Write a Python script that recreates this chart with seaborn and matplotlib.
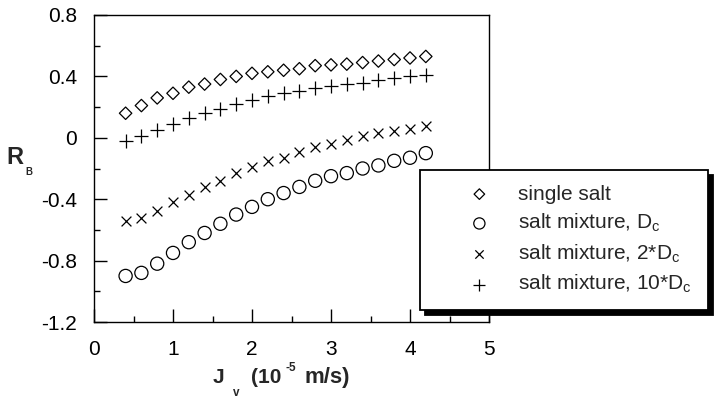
import matplotlib
matplotlib.use("Agg")
import matplotlib.pyplot as plt
from matplotlib.ticker import FixedLocator, FixedFormatter, MultipleLocator
import pandas as pd
import seaborn as sns

# Permeate flux J_v (10^-5 m/s)
jv = [0.4, 0.6, 0.8, 1.0, 1.2, 1.4, 1.6, 1.8, 2.0, 2.2,
      2.4, 2.6, 2.8, 3.0, 3.2, 3.4, 3.6, 3.8, 4.0, 4.2]

# Retention R_B for each case
r_single = [0.16, 0.21, 0.26, 0.29, 0.33, 0.35, 0.38, 0.40, 0.42, 0.43,
            0.44, 0.45, 0.47, 0.475, 0.48, 0.49, 0.50, 0.51, 0.52, 0.53]
r_mix_dc = [-0.90, -0.88, -0.82, -0.75, -0.68, -0.62, -0.56, -0.50, -0.45, -0.40,
            -0.36, -0.32, -0.28, -0.25, -0.23, -0.20, -0.18, -0.15, -0.13, -0.10]
r_mix_2dc = [-0.54, -0.52, -0.48, -0.42, -0.37, -0.32, -0.28, -0.23, -0.19, -0.15,
             -0.13, -0.09, -0.06, -0.04, -0.015, 0.01, 0.03, 0.045, 0.06, 0.075]
r_mix_10dc = [-0.02, 0.01, 0.05, 0.09, 0.13, 0.16, 0.19, 0.22, 0.245, 0.27,
              0.29, 0.305, 0.325, 0.335, 0.35, 0.36, 0.375, 0.39, 0.405, 0.41]

series_labels = ["single salt",
                 "salt mixture, D$_{\\mathrm{c}}$",
                 "salt mixture, 2*D$_{\\mathrm{c}}$",
                 "salt mixture, 10*D$_{\\mathrm{c}}$"]

x_ticks = [0, 1, 2, 3, 4, 5]
x_tick_labels = ["0", "1", "2", "3", "4", "5"]
y_ticks = [-1.2, -0.8, -0.4, 0, 0.4, 0.8]
y_tick_labels = ["-1.2", "-0.8", "-0.4", "0", "0.4", "0.8"]

sns.set_theme(style="ticks")
plt.rcParams.update({
    "font.family": ["Liberation Sans", "DejaVu Sans"],
    "mathtext.fontset": "custom",
    "mathtext.rm": "Liberation Sans",
    "mathtext.it": "Liberation Sans:italic",
    "mathtext.bf": "Liberation Sans:bold",
    "axes.unicode_minus": False,
    "axes.edgecolor": "black",
    "axes.linewidth": 1.0,
})

frames = []
for name, vals in zip(series_labels, [r_single, r_mix_dc, r_mix_2dc, r_mix_10dc]):
    frames.append(pd.DataFrame({"jv": jv, "rb": vals, "series": name}))
df = pd.concat(frames, ignore_index=True)

marker_style = {
    series_labels[0]: dict(marker="D", s=40, facecolor="none", edgecolor="black", linewidth=0.9),
    series_labels[1]: dict(marker="o", s=90, facecolor="none", edgecolor="black", linewidth=0.9),
    series_labels[2]: dict(marker="x", s=50, color="black", linewidth=0.9),
    series_labels[3]: dict(marker="+", s=100, color="black", linewidth=0.9),
}

W, H = 715, 399
fig = plt.figure(figsize=(W / 100, H / 100), dpi=100)
ax = fig.add_axes([94 / W, 1 - 322 / H, (489 - 94) / W, (322 - 15) / H])

for name in series_labels:
    sub = df[df["series"] == name]
    sns.scatterplot(data=sub, x="jv", y="rb", ax=ax, label=name, zorder=3,
                    **marker_style[name])

ax.set_xlim(0, 5)
ax.set_ylim(-1.2, 0.8)
ax.xaxis.set_major_locator(FixedLocator(x_ticks))
ax.xaxis.set_major_formatter(FixedFormatter(x_tick_labels))
ax.yaxis.set_major_locator(FixedLocator(y_ticks))
ax.yaxis.set_major_formatter(FixedFormatter(y_tick_labels))
ax.xaxis.set_minor_locator(MultipleLocator(0.5))
ax.yaxis.set_minor_locator(MultipleLocator(0.2))
ax.tick_params(which="both", direction="in", top=False, right=False,
               width=1.0, colors="black")
ax.tick_params(which="major", length=9.5, labelsize=15)
ax.tick_params(axis="y", which="major", pad=12)
ax.tick_params(axis="x", which="major", pad=13)
ax.tick_params(which="minor", length=4.5)
for sp in ax.spines.values():
    sp.set_visible(True)
    sp.set_color("black")
    sp.set_linewidth(1.0)

ax.set_xlabel("")
ax.set_ylabel("")


def fig_text(px, py, s, size, **kw):
    """Place bold text at pixel coordinates (origin top-left, baseline anchored)."""
    fig.text(px / W, 1 - py / H, s, fontsize=size, fontweight="bold",
             va="baseline", **kw)


# y-axis label R_B
fig_text(15, 164, "R", 17, ha="center")
fig_text(29, 175, "B", 7, ha="center")

# x-axis label J_v (10^-5 m/s)
fig_text(213, 383, "J", 15, ha="left")
fig_text(233, 396, "v", 8.5, ha="left")
fig_text(251, 383, "(10", 15, ha="left")
fig_text(286, 371, "-5", 8.5, ha="left")
fig_text(305, 383, "m/s)", 16, ha="left")

handles, labels = ax.get_legend_handles_labels()
leg = ax.legend(handles, labels, loc="upper left",
                bbox_to_anchor=(420 / W, 1 - 313 / H, 288 / W, 143 / H),
                bbox_transform=fig.transFigure, mode="expand", borderaxespad=0,
                fontsize=15, frameon=True, fancybox=False, framealpha=1,
                edgecolor="black", borderpad=0.7, handlelength=4.3,
                handletextpad=-0.3, labelspacing=0.4, markerscale=0.85,
                shadow={"ox": 3.5, "oy": -3.5, "color": "black", "alpha": 1})
leg.get_frame().set_linewidth(1.3)

fig.savefig("out.png", dpi=100)
